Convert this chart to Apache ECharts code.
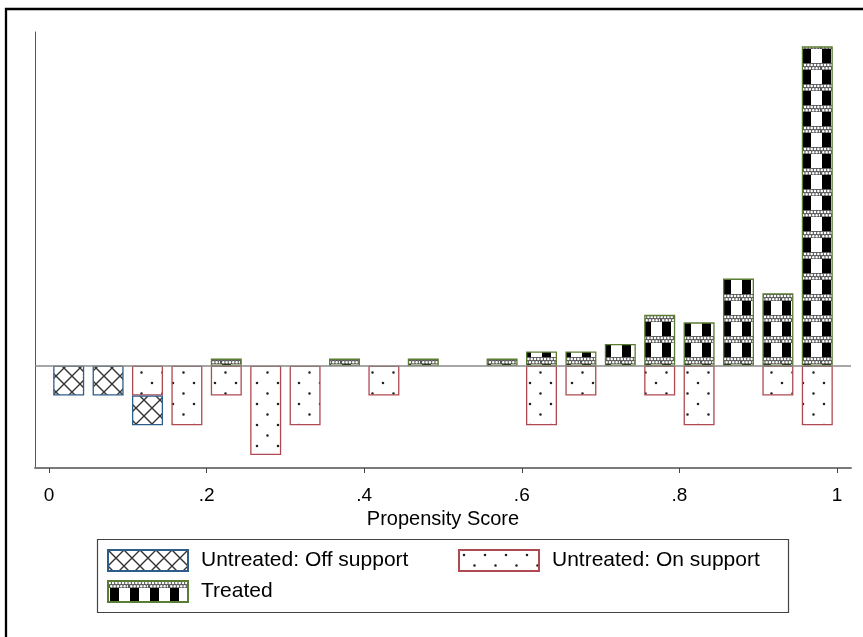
<!DOCTYPE html>
<html>
<head>
<meta charset="utf-8">
<script src="https://cdn.jsdelivr.net/npm/echarts@6/dist/echarts.min.js"></script>
<style>
  html, body { margin: 0; padding: 0; background: #fff; }
  #myChart { width: 863px; height: 637px; }
</style>
</head>
<body>
<div id="myChart"></div>
<script>
// histogram bins of the propensity score (width .05)
const binCenters = ['.025', '.075', '.125', '.175', '.225', '.275', '.325', '.375', '.425', '.475',
  '.525', '.575', '.625', '.675', '.725', '.775', '.825', '.875', '.925', '.975']
// densities, untreated drawn below zero
const offSupport = [-0.91, -0.91, -0.91, null, null, null, null, null, null, null,
  null, null, null, null, null, null, null, null, null, null]
const onSupport = [null, null, -0.91, -1.82, -0.91, -2.73, -1.82, null, -0.91, null,
  null, null, -1.82, -0.91, null, -0.91, -1.82, null, -0.91, -1.82]
const treated = [null, null, null, null, 0.22, null, null, 0.22, null, 0.22,
  null, 0.22, 0.44, 0.44, 0.67, 1.56, 1.33, 2.67, 2.22, 9.78]
const tickValues = [0, 0.2, 0.4, 0.6, 0.8, 1]
const tickLabels = ['0', '.2', '.4', '.6', '.8', '1']

const font = 'Liberation Sans, Arial, sans-serif'

function makeTile (w, h, draw) {
  const c = document.createElement('canvas')
  c.width = w
  c.height = h
  const ctx = c.getContext('2d')
  ctx.fillStyle = '#fff'
  ctx.fillRect(0, 0, w, h)
  draw(ctx)
  return { image: c, repeat: 'repeat' }
}

const offPattern = makeTile(16, 16, function (ctx) {
  ctx.strokeStyle = '#333'
  ctx.lineWidth = 1.4
  ctx.beginPath()
  ctx.moveTo(-2, -2); ctx.lineTo(18, 18)
  ctx.moveTo(18, -2); ctx.lineTo(-2, 18)
  ctx.stroke()
})

const onPattern = makeTile(21, 21, function (ctx) {
  ctx.fillStyle = '#222'
  ctx.beginPath()
  ctx.arc(5, 5, 1.3, 0, Math.PI * 2)
  ctx.arc(15.5, 15.5, 1.3, 0, Math.PI * 2)
  ctx.fill()
})

const treatedPattern = makeTile(20, 21, function (ctx) {
  ctx.fillStyle = '#555'
  ctx.fillRect(0, 0, 20, 7)
  ctx.fillStyle = '#fff'
  for (let k = 0; k < 6; k++) {
    ctx.beginPath()
    ctx.arc(1.7 + k * 3.33, 2, 1.3, 0, Math.PI * 2)
    ctx.arc(3.3 + k * 3.33, 5.2, 1.3, 0, Math.PI * 2)
    ctx.fill()
  }
  ctx.fillStyle = '#000'
  ctx.fillRect(2, 7, 9, 14)
})

function legendFor (name, left, top) {
  return {
    data: [name],
    left: left,
    top: top,
    padding: 0,
    itemWidth: 80,
    itemHeight: 21,
    icon: 'rect',
    selectedMode: false,
    textStyle: { fontFamily: font, fontSize: 21, color: '#000', padding: [0, 0, 0, 8] }
  }
}

const myChart = echarts.init(document.getElementById('myChart'))
myChart.setOption({
  animation: false,
  backgroundColor: '#fff',
  grid: [
    { left: 49, right: 26, top: 32, bottom: 169 },
    { left: 35, right: 12, top: 32, bottom: 169 }
  ],
  xAxis: [
    { type: 'category', gridIndex: 0, data: binCenters, show: false },
    {
      type: 'value',
      gridIndex: 1,
      min: -0.0178,
      max: 1.0178,
      name: 'Propensity Score',
      nameLocation: 'middle',
      nameGap: 32,
      nameTextStyle: { fontFamily: font, fontSize: 20, color: '#000' },
      axisLine: { onZero: false, lineStyle: { color: '#7a7a7a', width: 2 } },
      axisTick: { customValues: tickValues, length: 5, lineStyle: { color: '#444' } },
      axisLabel: {
        customValues: tickValues,
        margin: 18,
        fontFamily: font,
        fontSize: 19,
        color: '#000',
        formatter: function (v) {
          return tickLabels[Math.round(v * 5)]
        }
      },
      splitLine: { show: false }
    }
  ],
  yAxis: [
    { type: 'value', gridIndex: 0, min: -3.13, max: 10.22, show: false },
    {
      type: 'value',
      gridIndex: 1,
      min: -3.13,
      max: 10.22,
      axisLine: { show: true, onZero: false, lineStyle: { color: '#555', width: 1 } },
      axisTick: { show: false },
      axisLabel: { show: false },
      splitLine: { show: false }
    }
  ],
  legend: [
    legendFor('Untreated: Off support', 107, 549),
    legendFor('Untreated: On support', 458, 549),
    legendFor('Treated', 107, 580)
  ],
  graphic: [
    {
      type: 'rect',
      shape: { x: 6, y: 9, width: 1000, height: 1000 },
      style: { fill: null, stroke: '#000', lineWidth: 2.3 },
      silent: true
    },
    {
      type: 'rect',
      shape: { x: 97.5, y: 539.5, width: 691, height: 73 },
      style: { fill: null, stroke: '#444', lineWidth: 1.2 },
      silent: true
    }
  ],
  series: [
    {
      name: 'Untreated: On support',
      type: 'bar',
      xAxisIndex: 0,
      yAxisIndex: 0,
      stack: 'ps',
      barWidth: 31,
      data: onSupport,
      itemStyle: { color: onPattern, borderColor: '#b04a52', borderWidth: 1.3 }
    },
    {
      name: 'Untreated: Off support',
      type: 'bar',
      xAxisIndex: 0,
      yAxisIndex: 0,
      stack: 'ps',
      barWidth: 31,
      data: offSupport,
      itemStyle: { color: offPattern, borderColor: '#2f5d8a', borderWidth: 1.3 }
    },
    {
      name: 'Treated',
      type: 'bar',
      xAxisIndex: 0,
      yAxisIndex: 0,
      stack: 'ps',
      barWidth: 31,
      data: treated,
      itemStyle: { color: treatedPattern, borderColor: '#5b7d33', borderWidth: 1.3 }
    },
    {
      type: 'line',
      xAxisIndex: 1,
      yAxisIndex: 1,
      data: [],
      markLine: {
        silent: true,
        symbol: 'none',
        label: { show: false },
        lineStyle: { color: '#888', width: 1.5, type: 'solid' },
        data: [{ yAxis: 0 }]
      }
    }
  ]
})
</script>
</body>
</html>
